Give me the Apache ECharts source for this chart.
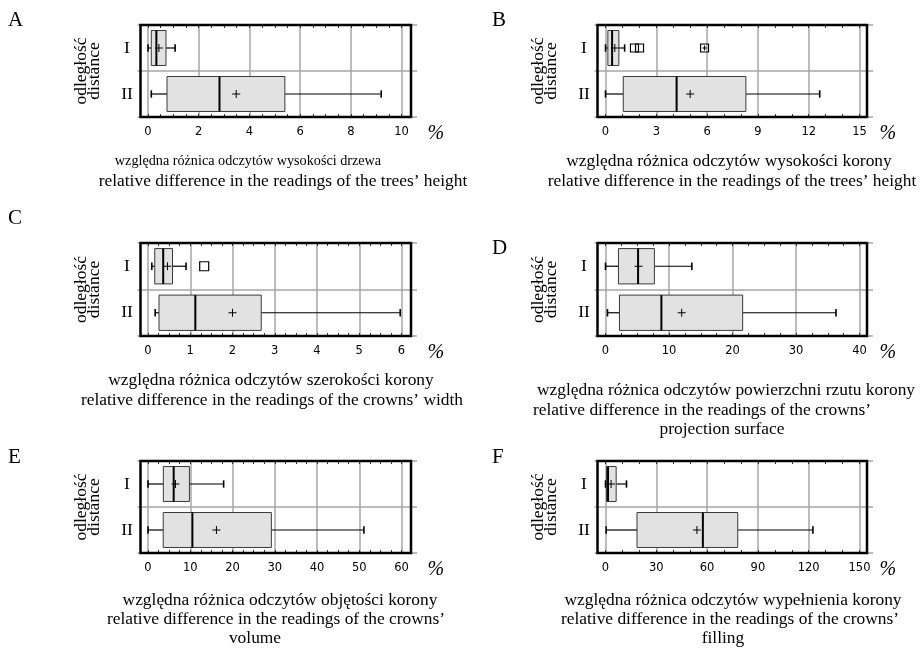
<!DOCTYPE html>
<html>
<head>
<meta charset="utf-8">
<script src="https://cdn.jsdelivr.net/npm/echarts@6/dist/echarts.min.js"></script>
<style>
  html, body { margin: 0; padding: 0; background: #fff; }
  #chart { width: 923px; height: 648px; }
</style>
</head>
<body>
<div id="chart"></div>
<script>
const categories = ['I', 'II'];

// box rows: [low whisker, Q1, median, Q3, high whisker], one row per distance
// A - tree height
const treeHeightBox = [[0.0, 0.13, 0.33, 0.71, 1.07], [0.13, 0.75, 2.82, 5.40, 9.20]];
const treeHeightMean = [0.43, 3.48];
const treeHeightAxis = [0, 10, 2];

// B - crown height
const crownHeightBox = [[0.0, 0.14, 0.39, 0.79, 1.13], [0.0, 1.05, 4.2, 8.29, 12.65]];
const crownHeightMean = [0.55, 5.0];
const crownHeightOutliers = [[1.71, 0], [2.01, 0]];
const crownHeightExtreme = [[5.85, 0]];
const crownHeightAxis = [0, 15, 3];

// C - crown width
const crownWidthBox = [[0.09, 0.16, 0.36, 0.58, 0.90], [0.17, 0.26, 1.12, 2.68, 5.97]];
const crownWidthMean = [0.46, 2.0];
const crownWidthOutliers = [[1.33, 0]];
const crownWidthAxis = [0, 6, 1];

// D - crown projection surface
const crownSurfaceBox = [[0.0, 2.04, 5.13, 7.7, 13.6], [0.31, 2.2, 8.8, 21.6, 36.3]];
const crownSurfaceMean = [5.2, 12.0];
const crownSurfaceAxis = [0, 40, 10];

// E - crown volume
const crownVolumeBox = [[0.0, 3.63, 6.08, 9.8, 17.9], [0.0, 3.6, 10.5, 29.2, 51.1]];
const crownVolumeMean = [6.5, 16.2];
const crownVolumeAxis = [0, 60, 10];

// F - crown filling
const crownFillingBox = [[0.0, 0.6, 1.5, 6.3, 12.4], [0.4, 18.6, 57.5, 78.1, 122.5]];
const crownFillingMean = [3.3, 54.0];
const crownFillingAxis = [0, 150, 30];

const SERIF = '"Liberation Serif", "Times New Roman", serif';
const SANS = '"DejaVu Sans", Verdana, sans-serif';
const GRID_GRAY = '#a6a6a6';

// layout of the six frames (outer) and data areas (inner)
const cols = [
    { left: 140.5, width: 270.5, padL: 7.5, padR: 9.5, nameGap: 26 },
    { left: 597.5, width: 269.5, padL: 8, padR: 7.5, nameGap: 20 },
];
const rows = [
    { top: 25, height: 92 },
    { top: 243, height: 93 },
    { top: 461, height: 92 },
];

const panels = [
    { col: 0, row: 0, box: treeHeightBox, mean: treeHeightMean, axis: treeHeightAxis, minor: 4 },
    { col: 1, row: 0, box: crownHeightBox, mean: crownHeightMean, axis: crownHeightAxis, minor: 3,
        outliers: crownHeightOutliers, extreme: crownHeightExtreme, outSize: 8 },
    { col: 0, row: 1, box: crownWidthBox, mean: crownWidthMean, axis: crownWidthAxis, minor: 4,
        outliers: crownWidthOutliers, outSize: 9 },
    { col: 1, row: 1, box: crownSurfaceBox, mean: crownSurfaceMean, axis: crownSurfaceAxis, minor: 4 },
    { col: 0, row: 2, box: crownVolumeBox, mean: crownVolumeMean, axis: crownVolumeAxis, minor: 4 },
    { col: 1, row: 2, box: crownFillingBox, mean: crownFillingMean, axis: crownFillingAxis, minor: 3 },
];

function renderBox(params, api) {
    const cat = api.value(0);
    const band = api.size([0, 1])[1];
    const half = band * 0.38;
    const cap = band * 0.08;
    const low = api.coord([api.value(1), cat]);
    const q1 = api.coord([api.value(2), cat]);
    const med = api.coord([api.value(3), cat]);
    const q3 = api.coord([api.value(4), cat]);
    const high = api.coord([api.value(5), cat]);
    const mean = api.coord([api.value(6), cat]);
    const y = q1[1];
    const line = (x1, y1, x2, y2, w) => ({
        type: 'line',
        shape: { x1: x1, y1: y1, x2: x2, y2: y2 },
        style: { stroke: '#000', lineWidth: w },
    });
    return {
        type: 'group',
        children: [
            line(low[0], y, q1[0], y, 1.2),
            line(q3[0], y, high[0], y, 1.2),
            line(low[0], y - cap, low[0], y + cap, 1.6),
            line(high[0], y - cap, high[0], y + cap, 1.6),
            {
                type: 'rect',
                shape: { x: q1[0], y: y - half, width: q3[0] - q1[0], height: half * 2 },
                style: { fill: '#e2e2e2', stroke: '#3a3a3a', lineWidth: 1 },
            },
            line(med[0], y - half, med[0], y + half, 2),
            line(mean[0] - 4, y, mean[0] + 4, y, 1),
            line(mean[0], y - 4, mean[0], y + 4, 1),
        ],
    };
}

const grids = [], xAxes = [], yAxes = [], series = [];

panels.forEach((p, k) => {
    const c = cols[p.col], r = rows[p.row];
    // outer frame grid
    grids.push({
        left: c.left, top: r.top, width: c.width, height: r.height,
        show: true, borderColor: '#000', borderWidth: 2.5, z: 10,
    });
    // inner data grid
    grids.push({
        left: c.left + c.padL, top: r.top, width: c.width - c.padL - c.padR, height: r.height,
    });
    const og = 2 * k, ig = 2 * k + 1;

    xAxes.push({ gridIndex: og, type: 'value', min: 0, max: 1, show: false });
    const tickCommon = {
        gridIndex: ig, type: 'value',
        min: p.axis[0], max: p.axis[1], interval: p.axis[2],
        axisLine: { show: false },
        axisTick: { show: true, inside: true, length: 3, lineStyle: { color: '#333', width: 1 } },
        minorTick: { show: true, splitNumber: p.minor, length: 3, lineStyle: { color: '#333', width: 1 } },
    };
    xAxes.push(Object.assign({}, tickCommon, {
        position: 'bottom',
        splitLine: { show: true, lineStyle: { color: GRID_GRAY, width: 1.5 } },
        axisLabel: { fontFamily: SANS, fontSize: 11.5, color: '#000', margin: 9 },
        name: '%',
        nameLocation: 'end',
        nameGap: c.nameGap,
        nameTextStyle: {
            fontFamily: SERIF, fontStyle: 'italic', fontSize: 20, color: '#000',
            verticalAlign: 'top', lineHeight: 34,
        },
    }));
    xAxes.push(Object.assign({}, tickCommon, {
        position: 'top',
        splitLine: { show: false },
        axisLabel: { show: false },
    }));

    yAxes.push({
        gridIndex: og, type: 'category', data: categories, inverse: true, position: 'left',
        axisLine: { show: false },
        axisTick: { show: true, length: 3, lineStyle: { color: GRID_GRAY, width: 1.5 } },
        splitLine: { show: true, lineStyle: { color: GRID_GRAY, width: 1.5 } },
        axisLabel: { fontFamily: SERIF, fontSize: 17.5, color: '#000', align: 'center', margin: 13.5 },
        name: 'odległość\ndistance',
        nameLocation: 'middle',
        nameRotate: 90,
        nameGap: 40,
        nameTextStyle: { fontFamily: SERIF, fontSize: 17.5, color: '#000', lineHeight: 13 },
    });
    yAxes.push({
        gridIndex: og, type: 'category', data: categories, inverse: true, position: 'right',
        axisLine: { show: false },
        axisTick: { show: true, length: 6, lineStyle: { color: GRID_GRAY, width: 1.5 } },
        axisLabel: { show: false },
        splitLine: { show: false },
    });
    yAxes.push({ gridIndex: ig, type: 'category', data: categories, inverse: true, show: false });

    const xi = 3 * k + 1, yi = 3 * k + 2;
    series.push({
        type: 'custom',
        xAxisIndex: xi, yAxisIndex: yi,
        renderItem: renderBox,
        encode: { x: [1, 2, 3, 4, 5, 6], y: 0 },
        data: p.box.map((b, i) => [i].concat(b, [p.mean[i]])),
        z: 3,
    });
    if (p.outliers) {
        series.push({
            type: 'scatter',
            xAxisIndex: xi, yAxisIndex: yi,
            symbol: 'rect', symbolSize: p.outSize,
            itemStyle: { color: 'rgba(0,0,0,0)', borderColor: '#000', borderWidth: 1.2, opacity: 1 },
            data: p.outliers,
            z: 4,
        });
    }
    if (p.extreme) {
        series.push({
            type: 'scatter',
            xAxisIndex: xi, yAxisIndex: yi,
            symbol: 'path://M0,0L10,0L10,10L0,10Z M5,2L5,8 M2,5L8,5', symbolSize: p.outSize,
            itemStyle: { color: 'rgba(0,0,0,0)', borderColor: '#000', borderWidth: 1.1, opacity: 1 },
            data: p.extreme,
            z: 4,
        });
    }
});

// panel letters and captions: [text, x, y, font size]
const letters = [['A', 8, 10], ['B', 492, 10], ['C', 8, 208], ['D', 492, 238], ['E', 8, 447], ['F', 492, 447]];
const captions = [
    ['względna różnica odczytów wysokości drzewa', 248, 161, 14.2],
    ['relative difference in the readings of the trees’ height', 283, 181, 17.4],
    ['względna różnica odczytów wysokości korony', 729, 161, 17.4],
    ['relative difference in the readings of the trees’ height', 732, 181, 17.4],
    ['względna różnica odczytów szerokości korony', 271, 380, 17.4],
    ['relative difference in the readings of the crowns’ width', 272, 400, 17.4],
    ['względna różnica odczytów powierzchni rzutu korony', 726, 390, 17.4],
    ['relative difference in the readings of the crowns’', 702, 410, 17.4],
    ['projection surface', 722, 429, 17.4],
    ['względna różnica odczytów objętości korony', 280, 600, 17.4],
    ['relative difference in the readings of the crowns’', 276, 619, 17.4],
    ['volume', 255, 638, 17.4],
    ['względna różnica odczytów wypełnienia korony', 733, 600, 17.4],
    ['relative difference in the readings of the crowns’', 730, 619, 17.4],
    ['filling', 723, 638, 17.4],
];
const graphics = letters.map(l => ({
    type: 'text', x: l[1], y: l[2],
    style: { text: l[0], font: '21px ' + SERIF, fill: '#000', align: 'left', verticalAlign: 'top' },
})).concat(captions.map(t => ({
    type: 'text', x: t[1], y: t[2],
    style: { text: t[0], font: t[3] + 'px ' + SERIF, fill: '#000', align: 'center', verticalAlign: 'middle' },
})));

const chart = echarts.init(document.getElementById('chart'), null, { renderer: 'canvas' });
chart.setOption({
    animation: false,
    backgroundColor: '#fff',
    grid: grids,
    xAxis: xAxes,
    yAxis: yAxes,
    series: series,
    graphic: graphics,
});
</script>
</body>
</html>
